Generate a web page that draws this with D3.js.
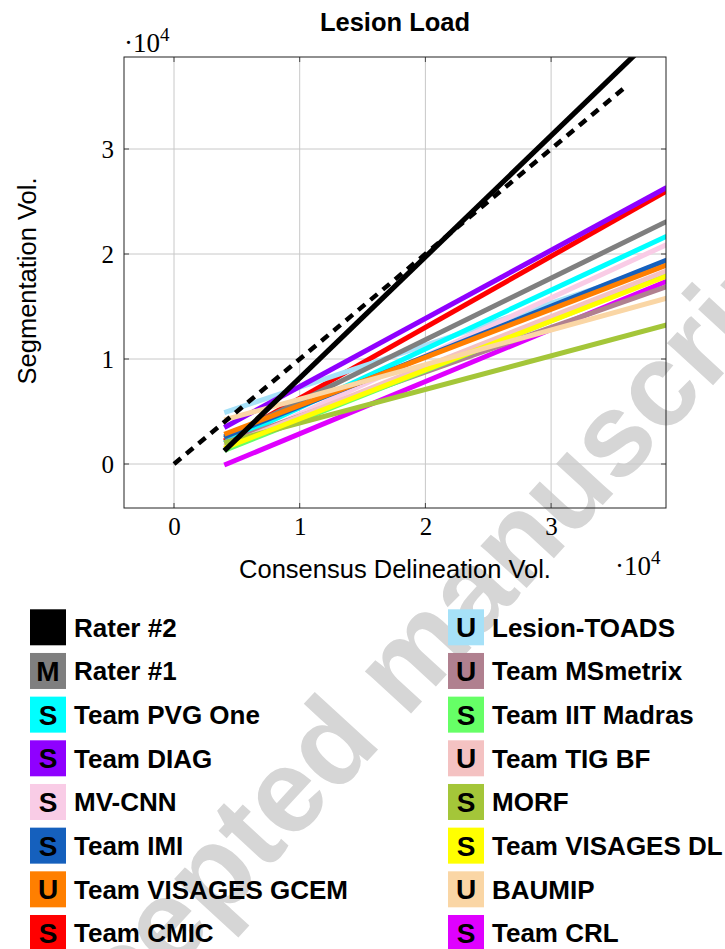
<!DOCTYPE html>
<html><head><meta charset="utf-8">
<script src="https://cdn.jsdelivr.net/npm/d3@7"></script>
<style>body{margin:0;background:#fff}</style>
</head><body>
<svg id="c" width="725" height="949"></svg>
<script>
// ---- data ----
const seriesNames = ["Rater #2","Rater #1","Team PVG One","Team DIAG","MV-CNN","Team IMI","Team VISAGES GCEM","Team CMIC",
  "Lesion-TOADS","Team MSmetrix","Team IIT Madras","Team TIG BF","MORF","Team VISAGES DL","BAUMIP","Team CRL"];
const seriesTags = ["","M","S","S","S","S","U","S","U","U","S","U","S","S","U","S"];
const seriesColors = ["#000000","#7f7f7f","#00ffff","#8f00ff","#f9cce6","#1560bd","#ff7f00","#ff0000",
  "#a6e1f8","#b0808f","#66ff66","#f4c2c2","#a4c639","#ffff00","#fad6a5","#df00ff"];
// regression line end points: x = 4000 and x = 39200
const xStart = 4000, xEnd = 39200;
const yAtStart = [1250, 2450, 2000, 3480, 1450, 2600, 2830, 2200, 4900, 2000, 1300, 1700, 2000, 1500, 4200, -100];
const yAtEnd   = [41900, 23100, 21700, 26330, 20900, 19430, 18950, 26000, 19000, 16900, 18000, 18400, 13240, 17900, 15800, 17400];
const identityX = [0, 36000];
const xTickValues = [0, 10000, 20000, 30000];
const yTickValues = [0, 10000, 20000, 30000];
const tickLabels = ["0","1","2","3"];

// ---- layout ----
const svg = d3.select("#c");
const L = 124, R = 666, T = 57, B = 508;
const x = d3.scaleLinear().domain([-3978, 39141]).range([L, R]);
const y = d3.scaleLinear().domain([-4190, 38762]).range([B, T]);

svg.append("rect").attr("width",725).attr("height",949).attr("fill","#fff");

// watermark
svg.append("text").attr("transform","translate(430,693) rotate(-47.4)")
  .attr("text-anchor","middle").attr("font-family","Liberation Sans, Arial, sans-serif")
  .attr("font-weight","bold").attr("font-size",118).attr("fill","#d6d6d6")
  .text("Accepted manuscript");

// grid
const g = svg.append("g");
g.selectAll("line.gx").data(xTickValues).join("line")
  .attr("x1",d=>x(d)).attr("x2",d=>x(d)).attr("y1",T).attr("y2",B)
  .attr("stroke","#c8c8c8").attr("stroke-width",1);
g.selectAll("line.gy").data(yTickValues).join("line")
  .attr("y1",d=>y(d)).attr("y2",d=>y(d)).attr("x1",L).attr("x2",R)
  .attr("stroke","#c8c8c8").attr("stroke-width",1);

// clip
svg.append("clipPath").attr("id","clp").append("rect")
  .attr("x",L).attr("y",T).attr("width",R-L).attr("height",B-T);
const plot = svg.append("g").attr("clip-path","url(#clp)");
const line = d3.line().x(d=>x(d[0])).y(d=>y(d[1]));

// drawing order (index into series), Rater #2 on top
const order = [7, 15, 8, 1, 2, 3, 4, 5, 6, 9, 10, 11, 12, 13, 14, 0];
plot.selectAll("path.s").data(order).join("path")
  .attr("d", i => line([[xStart, yAtStart[i]],[xEnd, yAtEnd[i]]]))
  .attr("fill","none").attr("stroke", i => seriesColors[i])
  .attr("stroke-width", i => i === 0 ? 5.2 : 5);
plot.append("path").attr("d", line(identityX.map(v=>[v,v])))
  .attr("fill","none").attr("stroke","#000").attr("stroke-width",4.5)
  .attr("stroke-dasharray","9,7");

// ticks (inside, all sides)
const tk = svg.append("g").attr("stroke","#444").attr("stroke-width",1);
xTickValues.forEach(v=>{
  tk.append("line").attr("x1",x(v)).attr("x2",x(v)).attr("y1",B).attr("y2",B-5);
  tk.append("line").attr("x1",x(v)).attr("x2",x(v)).attr("y1",T).attr("y2",T+5);
});
yTickValues.forEach(v=>{
  tk.append("line").attr("y1",y(v)).attr("y2",y(v)).attr("x1",L).attr("x2",L+5);
  tk.append("line").attr("y1",y(v)).attr("y2",y(v)).attr("x1",R).attr("x2",R-5);
});
// frame
svg.append("rect").attr("x",L).attr("y",T).attr("width",R-L).attr("height",B-T)
  .attr("fill","none").attr("stroke","#222").attr("stroke-width",1);

// axes labels via d3 axes
const serif = "Liberation Serif, Times New Roman, serif";
const ax = svg.append("g").attr("transform",`translate(0,${B})`)
  .call(d3.axisBottom(x).tickValues(xTickValues).tickFormat((d,i)=>tickLabels[i]).tickSize(0).tickPadding(9));
const ay = svg.append("g").attr("transform",`translate(${L},0)`)
  .call(d3.axisLeft(y).tickValues(yTickValues).tickFormat((d,i)=>tickLabels[i]).tickSize(0).tickPadding(10));
[ax, ay].forEach(a=>{
  a.select(".domain").remove();
  a.selectAll("text").attr("font-family",serif).attr("font-size",25).attr("fill","#000");
});
ay.selectAll("text").attr("dy","0.34em");
ax.selectAll("text").attr("dy","0.72em");

// exponent labels
function expo(xp, yp){
  const t = svg.append("text").attr("x",xp).attr("y",yp).attr("font-family",serif).attr("font-size",27);
  t.append("tspan").text("·10");
  t.append("tspan").attr("dy",-11).attr("font-size",19).text("4");
}
expo(124, 52);
expo(615, 575);

const sans = "Liberation Sans, Arial, Helvetica, sans-serif";
svg.append("text").attr("x",395).attr("y",31).attr("text-anchor","middle")
  .attr("font-family",sans).attr("font-weight","bold").attr("font-size",25.5).text("Lesion Load");
svg.append("text").attr("x",(L+R)/2).attr("y",578).attr("text-anchor","middle")
  .attr("font-family",sans).attr("font-size",25.5).text("Consensus Delineation Vol.");
svg.append("text").attr("transform","translate(36,281) rotate(-90)").attr("text-anchor","middle")
  .attr("font-family",sans).attr("font-size",25.5).text("Segmentation Vol.");

// legend
const leg = svg.append("g");
seriesNames.forEach((n,i)=>{
  const col = Math.floor(i/8), row = i%8;
  const sx = col ? 448 : 30, sy = 609.3 + row*43.67;
  leg.append("rect").attr("x",sx).attr("y",sy).attr("width",36).attr("height",36).attr("fill",seriesColors[i]);
  if (seriesTags[i]) leg.append("text").attr("x",sx+18).attr("y",sy+28).attr("text-anchor","middle")
    .attr("font-family",sans).attr("font-weight","bold").attr("font-size",28).text(seriesTags[i]);
  leg.append("text").attr("x",sx+44).attr("y",sy+27.3)
    .attr("font-family",sans).attr("font-weight","bold").attr("font-size",26).text(n);
});
</script>
</body></html>
